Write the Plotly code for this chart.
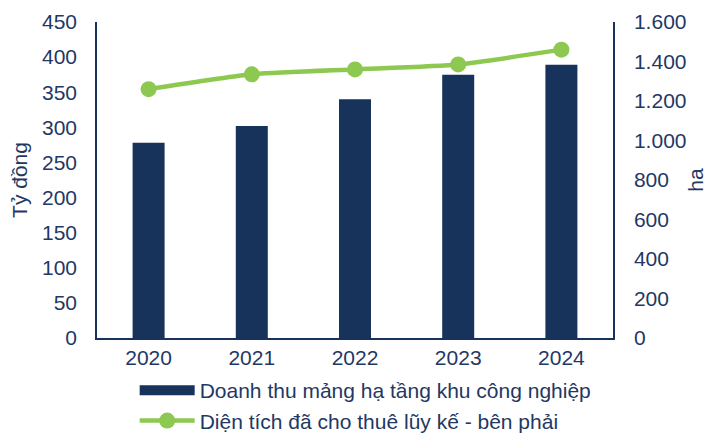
import plotly.graph_objects as go

years = ["2020", "2021", "2022", "2023", "2024"]
revenue = [278, 302, 340, 375, 389]
leased_area = [1260, 1335, 1360, 1385, 1460]
left_ticks = [0, 50, 100, 150, 200, 250, 300, 350, 400, 450]
right_ticks = [0, 200, 400, 600, 800, 1000, 1200, 1400, 1600]
right_tick_labels = ["0", "200", "400", "600", "800", "1.000", "1.200", "1.400", "1.600"]

navy = "#17335C"
green = "#8DC850"
text_col = "#1F3864"
font = "Liberation Sans, Arial, sans-serif"
fs = 21

fig = go.Figure()
fig.add_trace(go.Bar(x=years, y=revenue, marker=dict(color=navy, line=dict(width=0)),
                     width=0.31, showlegend=False, name="Doanh thu mảng hạ tầng khu công nghiệp"))
fig.add_trace(go.Scatter(x=[None], y=[None], mode="lines", line=dict(color=navy, width=11),
                         name="Doanh thu mảng hạ tầng khu công nghiệp"))
fig.add_trace(go.Scatter(x=years, y=leased_area, yaxis="y2", mode="lines+markers",
                         line=dict(color=green, width=4.5, shape="spline", smoothing=0.5),
                         marker=dict(color=green, size=16),
                         name="Diện tích đã cho thuê lũy kế - bên phải"))

fig.update_layout(
    width=704, height=426,
    margin=dict(l=89, r=99, t=14, b=96),
    paper_bgcolor="white", plot_bgcolor="white",
    font=dict(family=font, size=fs, color=text_col),
    xaxis=dict(showline=True, linecolor=navy, linewidth=1.5, showgrid=False, automargin=False,
               ticks="", ticklabelstandoff=0, tickfont=dict(size=fs, color=text_col)),
    yaxis=dict(range=[0, 450], tickvals=left_ticks, showline=True, linecolor=navy,
               linewidth=1.5, showgrid=False, zeroline=False, ticks="", automargin=False,
               ticklabelstandoff=14, ticklabeloverflow="allow",
               title=dict(text="Tỷ đồng", standoff=9, font=dict(size=fs, color=text_col)),
               tickfont=dict(size=fs, color=text_col)),
    yaxis2=dict(range=[0, 1600], tickvals=right_ticks, ticktext=right_tick_labels,
                overlaying="y", side="right", showline=True, linecolor=navy,
                linewidth=1.5, showgrid=False, zeroline=False, ticks="", automargin=False,
                ticklabelstandoff=15, ticklabeloverflow="allow",
                title=dict(text="ha", standoff=3, font=dict(size=fs, color=text_col)),
                tickfont=dict(size=fs, color=text_col)),
    legend=dict(orientation="v", x=0.073, xanchor="left", yref="container", y=0.15, yanchor="top",
                font=dict(size=fs, color=text_col), itemwidth=55, tracegroupgap=0,
                bgcolor="rgba(0,0,0,0)"),
)

fig.write_html("out.html")
